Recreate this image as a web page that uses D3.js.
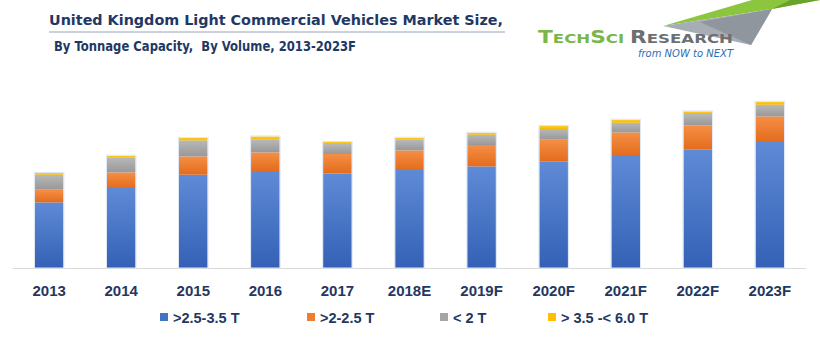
<!DOCTYPE html>
<html>
<head>
<meta charset="utf-8">
<script src="https://cdn.jsdelivr.net/npm/d3@7"></script>
<style>
  body { margin: 0; background: #fff; }
  svg { display: block; }
</style>
</head>
<body>
<div id="chart"></div>
<script>
// data (thousand units, approx)
const years = ["2013", "2014", "2015", "2016", "2017", "2018E", "2019F", "2020F", "2021F", "2022F", "2023F"];
const seriesNames = [">2.5-3.5 T", ">2-2.5 T", "< 2 T", "> 3.5 -< 6.0 T"];
const mid = [65.6, 80.0, 93.3, 97.0, 94.6, 98.0, 101.6, 106.3, 112.0, 118.3, 126.0];
const light = [12.7, 15.6, 18.3, 18.6, 19.4, 19.6, 21.4, 22.0, 23.6, 24.3, 25.6];
const small = [15.0, 14.7, 16.0, 12.7, 10.0, 10.7, 10.3, 10.7, 9.7, 11.4, 11.7];
const heavy = [1.7, 2.0, 2.4, 3.3, 2.0, 2.0, 2.0, 3.0, 3.0, 2.6, 3.0];

const colors = ["#4472c4", "#ed7d31", "#a5a5a5", "#ffc000"];
const colorsTop = ["#5f8ad6", "#f58f45", "#b8b8b8", "#ffcd2a"];
const colorsBot = ["#3461b6", "#e36c1c", "#989898", "#f4b800"];

const width = 820, height = 350;
const navy = "#1f3864";

const svg = d3.select("#chart").append("svg")
  .attr("width", width)
  .attr("height", height);

const defs = svg.append("defs");
colors.forEach((c, i) => {
  const g = defs.append("linearGradient")
    .attr("id", "grad" + i)
    .attr("x1", 0).attr("y1", 0).attr("x2", 0).attr("y2", 1);
  g.append("stop").attr("offset", "0%").attr("stop-color", colorsTop[i]);
  g.append("stop").attr("offset", "100%").attr("stop-color", colorsBot[i]);
});

// title
svg.append("text")
  .attr("x", 49).attr("y", 25)
  .attr("font-family", "DejaVu Sans, Verdana, sans-serif")
  .attr("font-weight", "bold")
  .attr("font-size", 14.5)
  .attr("fill", navy)
  .attr("textLength", 454)
  .attr("lengthAdjust", "spacingAndGlyphs")
  .text("United Kingdom Light Commercial Vehicles Market Size,");
svg.append("line")
  .attr("x1", 49).attr("x2", 505)
  .attr("y1", 32).attr("y2", 32)
  .attr("stroke", "#98a6bd")
  .attr("stroke-width", 1.2);
svg.append("text")
  .attr("x", 54).attr("y", 51)
  .attr("font-family", "DejaVu Sans, Verdana, sans-serif")
  .attr("font-weight", "bold")
  .attr("font-size", 14)
  .attr("fill", navy)
  .attr("textLength", 302)
  .attr("lengthAdjust", "spacingAndGlyphs")
  .style("white-space", "pre")
  .text("By Tonnage Capacity,  By Volume, 2013-2023F");

// logo
const logo = svg.append("g");
logo.append("polygon")
  .attr("points", "663,26 752,0 820,0 772,9")
  .attr("fill", "#8cc63f");
logo.append("polygon")
  .attr("points", "772,9 790,0 820,0")
  .attr("fill", "#6aa32c");
logo.append("polygon")
  .attr("points", "663,26 772,9 751,45")
  .attr("fill", "#a7adb4");
logo.append("polygon")
  .attr("points", "700,22 772,9 751,45")
  .attr("fill", "#8f969e");
const logoText = logo.append("text")
  .attr("x", 538).attr("y", 43)
  .attr("font-family", "DejaVu Sans, sans-serif")
  .attr("font-weight", "bold")
  .attr("textLength", 195)
  .attr("lengthAdjust", "spacingAndGlyphs");
const logoParts = [
  ["T", 17, "#7ab648"], ["ECH", 13, "#7ab648"], ["S", 17, "#7ab648"], ["CI ", 13, "#7ab648"],
  ["R", 17, "#6d6e71"], ["ESEARCH", 13, "#6d6e71"]
];
logoParts.forEach(([t, s, c]) => {
  logoText.append("tspan").attr("font-size", s).attr("fill", c).style("white-space", "pre").text(t);
});
logo.append("text")
  .attr("x", 733).attr("y", 57)
  .attr("text-anchor", "end")
  .attr("font-family", "DejaVu Sans, sans-serif")
  .attr("font-style", "italic")
  .attr("font-size", 10)
  .attr("fill", "#2f6db5")
  .text("from NOW to NEXT");

// scales
const x = d3.scaleBand()
  .domain(years)
  .range([13, 806])
  .paddingInner(0.603)
  .paddingOuter(0.303);
const y = d3.scaleLinear()
  .domain([0, 200])
  .range([268, 68]);

const table = years.map((yr, i) => ({
  year: yr,
  s0: mid[i], s1: light[i], s2: small[i], s3: heavy[i]
}));
const stacked = d3.stack().keys(["s0", "s1", "s2", "s3"])(table);

// baseline
svg.append("line")
  .attr("x1", 13).attr("x2", 806)
  .attr("y1", 268.5).attr("y2", 268.5)
  .attr("stroke", "#d9d9d9");

svg.append("g")
  .selectAll("g")
  .data(stacked)
  .join("g")
  .attr("fill", (d, i) => `url(#grad${i})`)
  .selectAll("rect")
  .data((d) => d)
  .join("rect")
  .attr("x", (d) => x(d.data.year))
  .attr("width", x.bandwidth())
  .attr("y", (d) => y(d[1]))
  .attr("height", (d) => y(d[0]) - y(d[1]));

// thin pale outline round each bar
svg.append("g")
  .selectAll("rect")
  .data(table)
  .join("rect")
  .attr("x", (d) => x(d.year) - 0.5)
  .attr("width", x.bandwidth() + 1)
  .attr("y", (d) => y(d.s0 + d.s1 + d.s2 + d.s3) - 0.5)
  .attr("height", (d) => y(0) - y(d.s0 + d.s1 + d.s2 + d.s3) + 0.5)
  .attr("fill", "none")
  .attr("stroke", "#dfe7f3")
  .attr("stroke-width", 1);

// x axis labels
const xAxis = svg.append("g")
  .attr("transform", "translate(0,268)")
  .call(d3.axisBottom(x).tickSize(0).tickPadding(17));
xAxis.select(".domain").remove();
xAxis.selectAll("text")
  .attr("font-family", "Liberation Sans, Arial, sans-serif")
  .attr("font-weight", "bold")
  .attr("font-size", 15)
  .attr("fill", navy);

// legend
const legendX = [160, 307, 440, 548];
const legend = svg.append("g")
  .selectAll("g")
  .data(seriesNames)
  .join("g")
  .attr("transform", (d, i) => `translate(${legendX[i]},313)`);
legend.append("rect")
  .attr("width", 8).attr("height", 8)
  .attr("fill", (d, i) => colors[i]);
legend.append("text")
  .attr("x", 13).attr("y", 9.5)
  .attr("font-family", "Liberation Sans, Arial, sans-serif")
  .attr("font-weight", "bold")
  .attr("font-size", 14.5)
  .attr("fill", navy)
  .style("white-space", "pre")
  .text((d) => d);
</script>
</body>
</html>
